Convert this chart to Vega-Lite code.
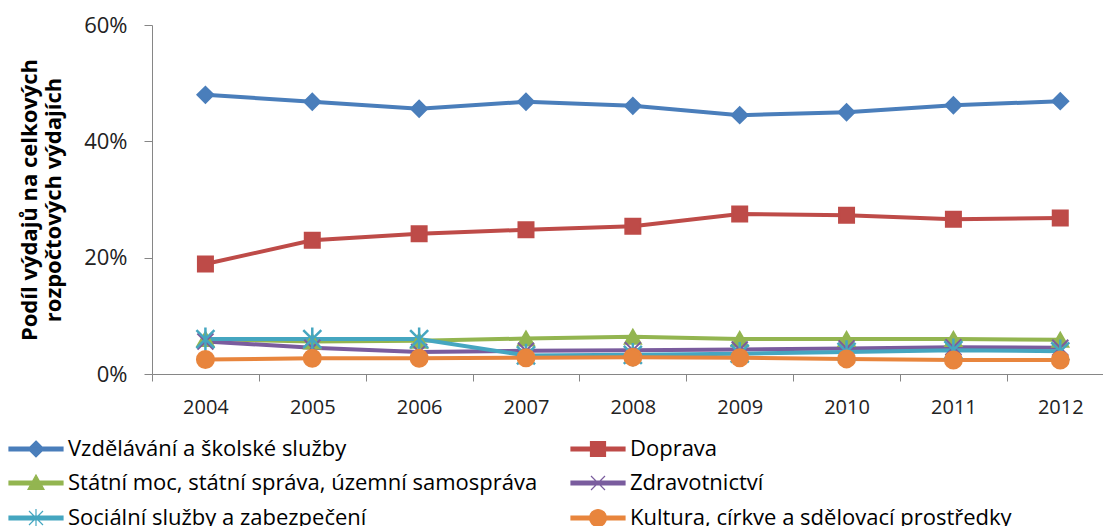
{
  "$schema": "https://vega.github.io/schema/vega-lite/v6.json",
  "width": 951,
  "height": 349,
  "autosize": {"type": "none"},
  "padding": {"left": 152, "top": 25, "right": 0, "bottom": 152},
  "background": "white",
  "config": {
    "view": {"stroke": null},
    "font": "Open Sans",
    "axis": {"labelFont": "Open Sans", "titleFont": "Open Sans", "domainColor": "#868686", "tickColor": "#868686", "labelColor": "#222", "grid": false}
  },
  "data": {
    "values": [
      {"year": 2004, "series": "Vzdělávání a školské služby", "value": 48.0},
      {"year": 2005, "series": "Vzdělávání a školské služby", "value": 46.8},
      {"year": 2006, "series": "Vzdělávání a školské služby", "value": 45.6},
      {"year": 2007, "series": "Vzdělávání a školské služby", "value": 46.8},
      {"year": 2008, "series": "Vzdělávání a školské služby", "value": 46.1},
      {"year": 2009, "series": "Vzdělávání a školské služby", "value": 44.5},
      {"year": 2010, "series": "Vzdělávání a školské služby", "value": 45.0},
      {"year": 2011, "series": "Vzdělávání a školské služby", "value": 46.2},
      {"year": 2012, "series": "Vzdělávání a školské služby", "value": 46.9},
      {"year": 2004, "series": "Doprava", "value": 18.9},
      {"year": 2005, "series": "Doprava", "value": 23.0},
      {"year": 2006, "series": "Doprava", "value": 24.1},
      {"year": 2007, "series": "Doprava", "value": 24.8},
      {"year": 2008, "series": "Doprava", "value": 25.4},
      {"year": 2009, "series": "Doprava", "value": 27.5},
      {"year": 2010, "series": "Doprava", "value": 27.3},
      {"year": 2011, "series": "Doprava", "value": 26.6},
      {"year": 2012, "series": "Doprava", "value": 26.8},
      {"year": 2004, "series": "Státní moc, státní správa, územní samospráva", "value": 6.0},
      {"year": 2005, "series": "Státní moc, státní správa, územní samospráva", "value": 5.6},
      {"year": 2006, "series": "Státní moc, státní správa, územní samospráva", "value": 5.7},
      {"year": 2007, "series": "Státní moc, státní správa, územní samospráva", "value": 6.1},
      {"year": 2008, "series": "Státní moc, státní správa, územní samospráva", "value": 6.4},
      {"year": 2009, "series": "Státní moc, státní správa, územní samospráva", "value": 6.0},
      {"year": 2010, "series": "Státní moc, státní správa, územní samospráva", "value": 6.0},
      {"year": 2011, "series": "Státní moc, státní správa, územní samospráva", "value": 6.0},
      {"year": 2012, "series": "Státní moc, státní správa, územní samospráva", "value": 5.9},
      {"year": 2004, "series": "Zdravotnictví", "value": 5.6},
      {"year": 2005, "series": "Zdravotnictví", "value": 4.5},
      {"year": 2006, "series": "Zdravotnictví", "value": 3.8},
      {"year": 2007, "series": "Zdravotnictví", "value": 4.0},
      {"year": 2008, "series": "Zdravotnictví", "value": 4.1},
      {"year": 2009, "series": "Zdravotnictví", "value": 4.2},
      {"year": 2010, "series": "Zdravotnictví", "value": 4.4},
      {"year": 2011, "series": "Zdravotnictví", "value": 4.6},
      {"year": 2012, "series": "Zdravotnictví", "value": 4.5},
      {"year": 2004, "series": "Sociální služby a zabezpečení", "value": 6.0},
      {"year": 2005, "series": "Sociální služby a zabezpečení", "value": 6.0},
      {"year": 2006, "series": "Sociální služby a zabezpečení", "value": 6.0},
      {"year": 2007, "series": "Sociální služby a zabezpečení", "value": 3.2},
      {"year": 2008, "series": "Sociální služby a zabezpečení", "value": 3.3},
      {"year": 2009, "series": "Sociální služby a zabezpečení", "value": 3.5},
      {"year": 2010, "series": "Sociální služby a zabezpečení", "value": 3.8},
      {"year": 2011, "series": "Sociální služby a zabezpečení", "value": 4.1},
      {"year": 2012, "series": "Sociální služby a zabezpečení", "value": 3.9},
      {"year": 2004, "series": "Kultura, církve a sdělovací prostředky", "value": 2.5},
      {"year": 2005, "series": "Kultura, církve a sdělovací prostředky", "value": 2.7},
      {"year": 2006, "series": "Kultura, církve a sdělovací prostředky", "value": 2.7},
      {"year": 2007, "series": "Kultura, církve a sdělovací prostředky", "value": 2.8},
      {"year": 2008, "series": "Kultura, církve a sdělovací prostředky", "value": 2.9},
      {"year": 2009, "series": "Kultura, církve a sdělovací prostředky", "value": 2.8},
      {"year": 2010, "series": "Kultura, církve a sdělovací prostředky", "value": 2.6},
      {"year": 2011, "series": "Kultura, církve a sdělovací prostředky", "value": 2.4},
      {"year": 2012, "series": "Kultura, církve a sdělovací prostředky", "value": 2.4}
    ]
  },
  "encoding": {
    "x": {
      "field": "year", "type": "quantitative",
      "scale": {"domain": [2003.5, 2012.4], "nice": false, "zero": false},
      "axis": {
        "title": null, "values": [2004, 2005, 2006, 2007, 2008, 2009, 2010, 2011, 2012],
        "format": "d", "tickSize": 7, "tickOffset": -53.4, "labelOffset": 53.4, "labelPadding": 16,
        "labelFontSize": 20, "labelFlush": false, "labelOverlap": false
      }
    },
    "y": {
      "field": "value", "type": "quantitative",
      "scale": {"domain": [0, 60], "nice": false},
      "axis": {
        "values": [0, 20, 40, 60], "labelExpr": "datum.value + '%'",
        "tickSize": 8, "labelPadding": 17, "labelFontSize": 22,
        "title": ["Podíl výdajů na celkových", "rozpočtových výdajích"],
        "titleFontSize": 22, "titleFontWeight": "bold", "titleColor": "#000",
        "titleLineHeight": 24, "titleX": -111
      }
    }
  },
  "layer": [
    {
      "mark": {"type": "line", "strokeWidth": 4},
      "encoding": {
        "color": {
          "field": "series", "type": "nominal",
          "scale": {
            "domain": ["Vzdělávání a školské služby", "Doprava", "Státní moc, státní správa, územní samospráva", "Zdravotnictví", "Sociální služby a zabezpečení", "Kultura, církve a sdělovací prostředky"],
            "range": ["#4A7EBB", "#BE4B48", "#93B550", "#7A5C9E", "#45A6C0", "#E8853D"]
          },
          "legend": {
            "orient": "none", "direction": "horizontal", "legendX": -127, "legendY": 413, "columns": 2,
            "columnPadding": 30, "rowPadding": 12, "padding": 0, "title": null,
            "labelFont": "Open Sans", "labelFontSize": 22, "labelColor": "#000", "labelLimit": 0,
            "labelOffset": 21, "symbolSize": 400,
            "encode": {
              "symbols": {
                "update": {
                  "shape": {"signal": "datum.value === 'Vzdělávání a školské služby' ? 'M-2.7,-0.19H2.7V0.19H-2.7ZM0,-0.8L0.8,0L0,0.8L-0.8,0Z' : datum.value === 'Doprava' ? 'M-2.7,-0.19H2.7V0.19H-2.7ZM-0.75,-0.75H0.75V0.75H-0.75Z' : datum.value === 'Zdravotnictví' ? 'M-2.7,-0.19H2.7V0.19H-2.7ZM-0.7,-0.7L0.7,0.7M-0.7,0.7L0.7,-0.7' : datum.value === 'Sociální služby a zabezpečení' ? 'M-2.7,-0.19H2.7V0.19H-2.7ZM-0.7,-0.7L0.7,0.7M-0.7,0.7L0.7,-0.7M0,-0.9L0,0.9' : datum.value === 'Kultura, církve a sdělovací prostředky' ? 'M-2.7,-0.19H2.7V0.19H-2.7ZM0.85,0A0.85,0.85 0 1,1 -0.85,0A0.85,0.85 0 1,1 0.85,0Z' : 'M-2.7,-0.19H2.7V0.19H-2.7ZM0,-0.8L0.8,0.65L-0.8,0.65Z'"},
                  "fill": {"signal": "scale('color', datum.value)"},
                  "strokeWidth": {"value": 1.2},
                  "opacity": {"value": 1},
                  "fillOpacity": {"value": 1}
                }
              }
            }
          }
        }
      }
    },
    {
      "transform": [{"filter": "datum.series === 'Vzdělávání a školské služby'"}],
      "mark": {"type": "point", "shape": "diamond", "filled": true, "opacity": 1, "color": "#4A7EBB", "stroke": "#4A7EBB", "strokeWidth": 2, "size": 256}
    },
    {
      "transform": [{"filter": "datum.series === 'Doprava'"}],
      "mark": {"type": "point", "shape": "square", "filled": true, "opacity": 1, "color": "#BE4B48", "stroke": "#BE4B48", "strokeWidth": 2, "size": 225}
    },
    {
      "transform": [{"filter": "datum.series === 'Státní moc, státní správa, územní samospráva'"}],
      "mark": {"type": "point", "shape": "triangle-up", "filled": true, "opacity": 1, "color": "#93B550", "stroke": "#93B550", "strokeWidth": 2, "size": 260}
    },
    {
      "transform": [{"filter": "datum.series === 'Zdravotnictví'"}],
      "mark": {"type": "point", "shape": "M-1,-1L1,1M-1,1L1,-1", "filled": false, "opacity": 1, "color": "#7A5C9E", "strokeWidth": 2, "size": 256}
    },
    {
      "transform": [{"filter": "datum.series === 'Sociální služby a zabezpečení'"}],
      "mark": {"type": "point", "shape": "M-1,-1L1,1M-1,1L1,-1M0,-1.3L0,1.3", "filled": false, "opacity": 1, "color": "#45A6C0", "strokeWidth": 2.5, "size": 324}
    },
    {
      "transform": [{"filter": "datum.series === 'Kultura, církve a sdělovací prostředky'"}],
      "mark": {"type": "point", "shape": "circle", "filled": true, "opacity": 1, "color": "#E8853D", "stroke": "#E8853D", "strokeWidth": 2, "size": 289}
    }
  ]
}
